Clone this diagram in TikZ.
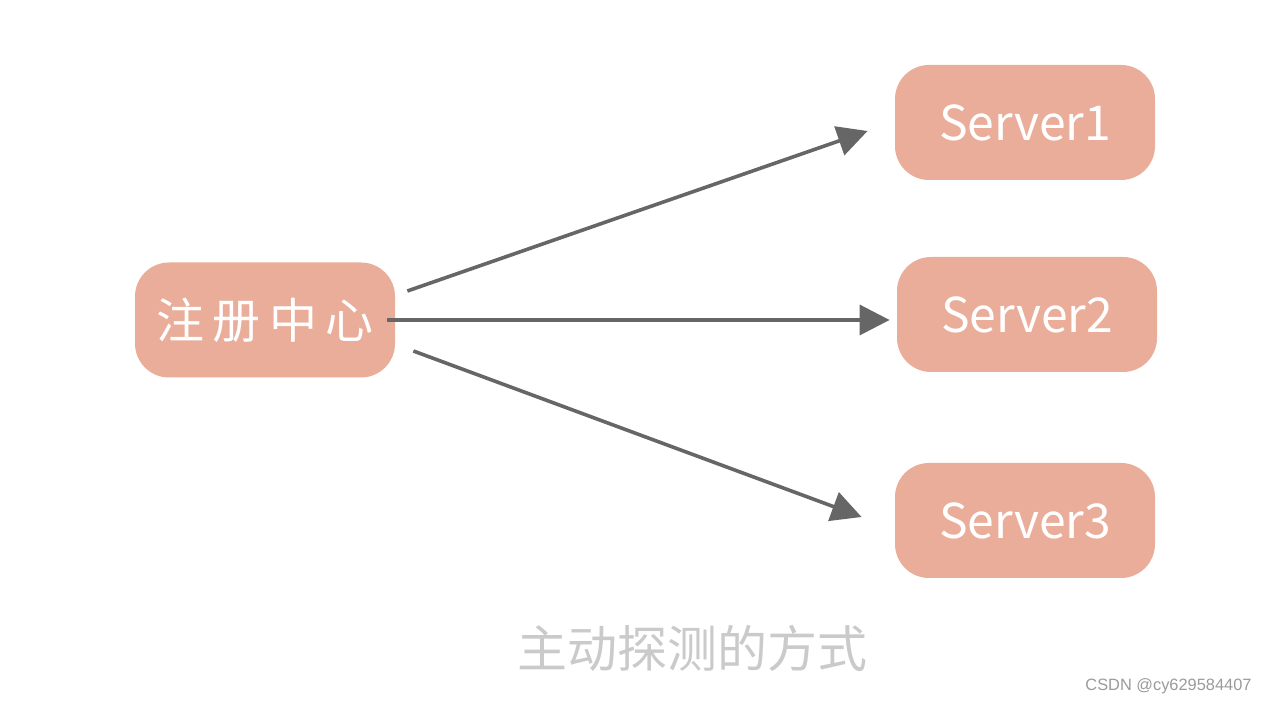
\documentclass[tikz,border=0pt]{standalone}
\usepackage{fontspec}
\setmainfont{Liberation Sans}
\newfontfamily\cjk{Noto Sans CJK SC}
\usetikzlibrary{arrows.meta}
\definecolor{boxfill}{HTML}{E9AD9A}
\definecolor{arrowgray}{HTML}{666666}
\definecolor{capgray}{HTML}{CACACA}
\definecolor{markgray}{HTML}{9A9A9A}
\tikzset{
  box/.style={draw=none, fill=boxfill, rounded corners=17pt, minimum width=130pt,
    minimum height=57.5pt, inner sep=0pt, text=white},
  cnlabel/.style={font=\cjk\addfontfeature{LetterSpace=18}\fontsize{24}{24}\selectfont},
  enlabel/.style={font=\cjk\fontsize{24}{24}\selectfont},
  arr/.style={draw=arrowgray, line width=1.8pt, -{Triangle[length=15pt,width=15pt]}},
}
\begin{document}
\begin{tikzpicture}[x=0.5pt,y=-0.5pt]
\useasboundingbox (0,0) rectangle (1268,704);
\node[box, cnlabel] (reg) at (265,320) {注册中心};
\node[box, enlabel] (s1) at (1025,122.5) {Server1};
\node[box, enlabel] (s2) at (1027,314.5) {Server2};
\node[box, enlabel] (s3) at (1025,520.5) {Server3};
\draw[arr] ([xshift=6pt,yshift=14.5pt]reg.east) -- ([xshift=-13.5pt,yshift=-4.25pt]s1.west);
\draw[arr] ([xshift=-4pt]reg.east) -- ([xshift=-3.5pt,yshift=-2.75pt]s2.west);
\draw[arr] ([xshift=9pt,yshift=-15.5pt]reg.east) -- ([xshift=-16.5pt,yshift=1.75pt]s3.west);
\node[font=\cjk\fontsize{25}{25}\selectfont, text=capgray] (cap) at (692,648) {主动探测的方式};
\node[font=\fontsize{8.2}{9}\selectfont, text=markgray, anchor=west, inner sep=0pt] (mark) at (1085,686) {CSDN @cy629584407};
\end{tikzpicture}
\end{document}
